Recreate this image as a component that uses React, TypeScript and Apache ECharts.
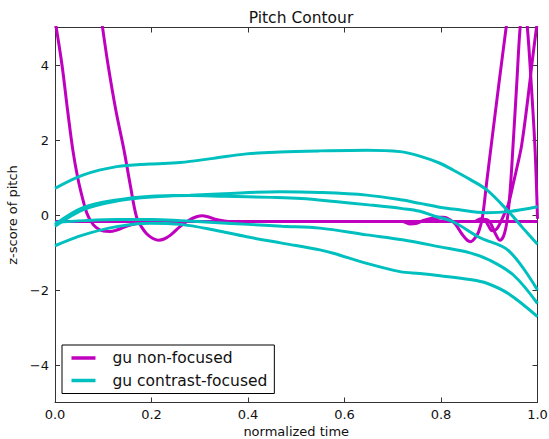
import React, { useEffect, useRef } from "react";
import * as echarts from "echarts";

const MAGENTA = "#bf00bf";
const CYAN = "#00bfbf";

const xTickValues = [0, 0.2, 0.4, 0.6, 0.8, 1.0];
const yTickValues = [-4, -2, 0, 2, 4];
const legendNames = ["gu non-focused", "gu contrast-focused"];

// gu non-focused contours [normalized time, z-score]
const nonFocused1: number[][] = [
  [0, 5.2], [0.0145, 4], [0.026, 2.8], [0.037, 1.73], [0.047, 1.0], [0.057, 0.45],
  [0.066, 0.05], [0.075, -0.18], [0.085, -0.33], [0.1, -0.43], [0.114, -0.44],
  [0.128, -0.4], [0.142, -0.33], [0.158, -0.26], [0.18, -0.2], [0.22, -0.17],
  [0.4, -0.17], [0.7, -0.17], [1.0, -0.17],
];
const nonFocused2: number[][] = [
  [0.09, 5.8], [0.098, 5.05], [0.11, 4], [0.126, 2.8], [0.143, 1.73], [0.156, 0.8],
  [0.169, -0.05], [0.18, -0.33], [0.19, -0.5], [0.202, -0.62], [0.214, -0.67],
  [0.226, -0.64], [0.24, -0.53], [0.259, -0.31], [0.28, -0.12], [0.295, -0.04],
  [0.305, -0.02], [0.32, -0.06], [0.335, -0.12], [0.36, -0.17], [0.45, -0.17], [1.0, -0.17],
];
const nonFocused3: number[][] = [
  [0, -0.17], [0.5, -0.17], [0.76, -0.17], [0.775, -0.12], [0.79, -0.06], [0.805, -0.06],
  [0.818, -0.12], [0.83, -0.25], [0.843, -0.5], [0.855, -0.68], [0.862, -0.71],
  [0.87, -0.62], [0.878, -0.45], [0.886, -0.05], [0.894, 0.8], [0.905, 1.95],
  [0.92, 3.5], [0.935, 5], [0.945, 6],
];
const nonFocused4: number[][] = [
  [0, -0.17], [0.72, -0.17], [0.735, -0.24], [0.75, -0.22], [0.765, -0.14], [0.78, -0.1],
  [0.795, -0.15], [0.81, -0.17], [0.88, -0.17], [0.893, -0.12], [0.902, -0.2],
  [0.912, -0.48], [0.922, -0.67], [0.93, -0.55], [0.937, -0.15], [0.943, 0.6],
  [0.95, 2.0], [0.957, 3.5], [0.964, 5], [0.9715, 5.8], [0.979, 5], [0.987, 3.5],
  [0.995, 1.73], [1.0, -0.1],
];
const nonFocused5: number[][] = [
  [0, -0.17], [0.87, -0.17], [0.882, -0.1], [0.89, -0.12], [0.898, -0.28], [0.906, -0.42],
  [0.915, -0.38], [0.924, -0.18], [0.932, 0.05], [0.94, 0.3], [0.95, 0.85], [0.958, 1.3],
  [0.967, 1.85], [0.98, 3.1], [0.99, 4.2], [0.998, 5], [1.0, 5.2],
];

// gu contrast-focused contours
const contrastA: number[][] = [
  [0, 0.71], [0.059, 1.07], [0.128, 1.29], [0.197, 1.36], [0.259, 1.4], [0.328, 1.51],
  [0.397, 1.63], [0.466, 1.68], [0.549, 1.71], [0.646, 1.73], [0.715, 1.69], [0.756, 1.57],
  [0.798, 1.38], [0.825, 1.2], [0.86, 0.95], [0.895, 0.67], [0.94, 0.09], [0.97, -0.35],
  [1.0, -0.78],
];
const contrastB: number[][] = [
  [0, -0.25], [0.059, 0.2], [0.128, 0.4], [0.2, 0.5], [0.28, 0.53], [0.35, 0.57],
  [0.466, 0.62], [0.549, 0.6], [0.646, 0.53], [0.72, 0.4], [0.756, 0.31], [0.8, 0.2],
  [0.825, 0.16], [0.895, 0.06], [0.94, 0.09], [1.0, 0.22],
];
const contrastC: number[][] = [
  [0, -0.3], [0.06, 0.15], [0.13, 0.38], [0.2, 0.48], [0.28, 0.52], [0.35, 0.5],
  [0.45, 0.47], [0.51, 0.44], [0.58, 0.36], [0.65, 0.27], [0.72, 0.17], [0.756, 0.1],
  [0.784, -0.02], [0.825, -0.18], [0.88, -0.6], [0.94, -0.95], [1.0, -2.0],
];
const contrastD: number[][] = [
  [0, -0.2], [0.06, -0.15], [0.13, -0.12], [0.2, -0.12], [0.26, -0.15], [0.33, -0.2],
  [0.4, -0.25], [0.47, -0.3], [0.549, -0.35], [0.646, -0.53], [0.72, -0.66],
  [0.798, -0.85], [0.86, -1.01], [0.9, -1.2], [0.95, -1.6], [1.0, -2.36],
];
const contrastE: number[][] = [
  [0, -0.82], [0.059, -0.53], [0.128, -0.31], [0.197, -0.22], [0.26, -0.25], [0.33, -0.4],
  [0.397, -0.58], [0.47, -0.75], [0.549, -0.93], [0.577, -1.02], [0.646, -1.29],
  [0.715, -1.51], [0.756, -1.56], [0.798, -1.62], [0.86, -1.72], [0.895, -1.82],
  [0.94, -2.1], [1.0, -2.71],
];

const nonFocusedSeries = [nonFocused1, nonFocused2, nonFocused3, nonFocused4, nonFocused5];
const contrastSeries = [contrastA, contrastB, contrastC, contrastD, contrastE];

const FONT = "DejaVu Sans";
const TEXT = "#111";
const AXIS = "#333";

const fmtY = (v: number) => (v < 0 ? "\u2212" + Math.abs(v) : String(v));

export default function App() {
  const ref = useRef<HTMLDivElement>(null);
  useEffect(() => {
    if (!ref.current) return;
    const chart = echarts.init(ref.current, undefined, { renderer: "svg" });
    const mkSeries = (data: number[][], name: string, color: string) => ({
      type: "line",
      name,
      data,
      xAxisIndex: 0,
      yAxisIndex: 0,
      smooth: 0.35,
      showSymbol: false,
      symbol: "none",
      clip: true,
      lineStyle: { color, width: 3 },
      itemStyle: { color },
      emphasis: { disabled: true },
    });
    const axisCommonX = {
      type: "value",
      min: 0,
      max: 1,
      interval: 0.2,
      splitLine: { show: false },
      axisLine: { show: true, onZero: false, lineStyle: { color: AXIS, width: 1 } },
      axisTick: { show: true, inside: true, length: 5, lineStyle: { color: AXIS } },
    };
    const axisCommonY = {
      type: "value",
      min: -5,
      max: 5,
      interval: 1,
      splitLine: { show: false },
      axisLine: { show: true, onZero: false, lineStyle: { color: AXIS, width: 1 } },
      axisTick: {
        show: true,
        inside: true,
        length: 5,
        customValues: yTickValues,
        lineStyle: { color: AXIS },
      },
    };
    chart.setOption({
      animation: false,
      backgroundColor: "#fff",
      textStyle: { fontFamily: FONT },
      title: {
        text: "Pitch Contour",
        left: 296,
        top: 5,
        textAlign: "center",
        textStyle: { fontFamily: FONT, fontSize: 15.5, fontWeight: "normal", color: TEXT },
      },
      grid: {
        left: 55,
        right: 11.5,
        top: 27.5,
        bottom: 36.5,
        containLabel: false,
        outerBoundsMode: "none",
      },
      legend: {
        data: legendNames.map((n) => ({ name: n, icon: "rect" })),
        orient: "vertical",
        left: 62,
        top: 345,
        padding: [4, 7, 4, 9.5],
        itemGap: 4.5,
        itemWidth: 24,
        itemHeight: 3.5,
        borderColor: "#000",
        borderWidth: 1,
        borderRadius: 0,
        backgroundColor: "#fff",
        selectedMode: false,
        textStyle: {
          fontFamily: FONT,
          fontSize: 15.5,
          color: TEXT,
          lineHeight: 18,
          padding: [0, 0, 0, 12],
        },
      },
      xAxis: [
        {
          ...axisCommonX,
          position: "bottom",
          name: "normalized time",
          nameLocation: "middle",
          nameGap: 22,
          nameTextStyle: { fontFamily: FONT, fontSize: 13, color: TEXT },
          axisLabel: {
            show: true,
            margin: 5,
            fontFamily: FONT,
            fontSize: 13,
            color: TEXT,
            formatter: (v: number) => v.toFixed(1),
          },
        },
        {
          ...axisCommonX,
          position: "top",
          axisLabel: { show: false },
        },
      ],
      yAxis: [
        {
          ...axisCommonY,
          position: "left",
          name: "z-score of pitch",
          nameLocation: "middle",
          nameGap: 30,
          nameRotate: 90,
          nameTextStyle: { fontFamily: FONT, fontSize: 13, color: TEXT },
          axisLabel: {
            show: true,
            margin: 6,
            fontFamily: FONT,
            fontSize: 13,
            color: TEXT,
            customValues: yTickValues,
            formatter: (v: number) => fmtY(v),
          },
        },
        {
          ...axisCommonY,
          position: "right",
          axisLabel: { show: false },
        },
      ],
      series: [
        ...nonFocusedSeries.map((d) => mkSeries(d, legendNames[0], MAGENTA)),
        ...contrastSeries.map((d) => mkSeries(d, legendNames[1], CYAN)),
      ],
    });
    return () => chart.dispose();
  }, []);
  return (
    <div
      ref={ref}
      style={{ position: "fixed", left: 0, top: 0, width: 549, height: 439, background: "#fff" }}
    />
  );
}
